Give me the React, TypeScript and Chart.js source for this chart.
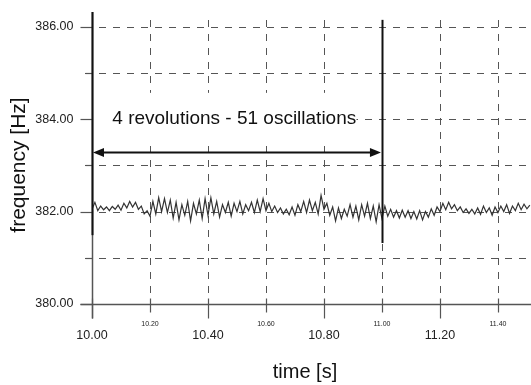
import { useEffect, useRef } from "react";
import { Chart, registerables } from "chart.js";

Chart.register(...registerables);

// ---- data ----
const TIMES = [
  10.00, 10.01, 10.02, 10.03, 10.04, 10.05, 10.06, 10.07, 10.08, 10.09,
  10.10, 10.11, 10.12, 10.13, 10.14, 10.15, 10.16, 10.17, 10.18, 10.19,
  10.20, 10.21, 10.22, 10.23, 10.24, 10.25, 10.26, 10.27, 10.28, 10.29,
  10.30, 10.31, 10.32, 10.33, 10.34, 10.35, 10.36, 10.37, 10.38, 10.39,
  10.40, 10.41, 10.42, 10.43, 10.44, 10.45, 10.46, 10.47, 10.48, 10.49,
  10.50, 10.51, 10.52, 10.53, 10.54, 10.55, 10.56, 10.57, 10.58, 10.59,
  10.60, 10.61, 10.62, 10.63, 10.64, 10.65, 10.66, 10.67, 10.68, 10.69,
  10.70, 10.71, 10.72, 10.73, 10.74, 10.75, 10.76, 10.77, 10.78, 10.79,
  10.80, 10.81, 10.82, 10.83, 10.84, 10.85, 10.86, 10.87, 10.88, 10.89,
  10.90, 10.91, 10.92, 10.93, 10.94, 10.95, 10.96, 10.97, 10.98, 10.99,
  11.00, 11.01, 11.02, 11.03, 11.04, 11.05, 11.06, 11.07, 11.08, 11.09,
  11.10, 11.11, 11.12, 11.13, 11.14, 11.15, 11.16, 11.17, 11.18, 11.19,
  11.20, 11.21, 11.22, 11.23, 11.24, 11.25, 11.26, 11.27, 11.28, 11.29,
  11.30, 11.31, 11.32, 11.33, 11.34, 11.35, 11.36, 11.37, 11.38, 11.39,
  11.40, 11.41, 11.42, 11.43, 11.44, 11.45, 11.46, 11.47, 11.48, 11.49,
  11.50, 11.51,
];

const FREQ = [
  382.05, 382.20, 382.02, 382.12, 382.04, 382.10, 382.02, 382.11, 382.05, 382.14,
  382.03, 382.18, 382.08, 382.22, 382.10, 382.20, 382.05, 382.12, 381.95, 382.02,
  381.90, 382.22, 381.95, 382.30, 382.00, 382.28, 381.98, 382.25, 381.86, 382.20,
  381.82, 382.15, 381.92, 382.22, 381.80, 382.18, 381.95, 382.25, 381.85, 382.28,
  381.92, 382.30, 381.95, 382.22, 381.88, 382.15, 381.98, 382.20, 381.90, 382.18,
  382.00, 382.22, 381.95, 382.15, 382.02, 382.20, 381.98, 382.25, 382.00, 382.28,
  382.02, 382.18, 382.00, 382.12, 381.98, 382.08, 381.95, 382.05, 381.93, 382.10,
  381.92, 382.15, 382.00, 382.22, 381.98, 382.25, 382.02, 382.20, 381.95, 382.35,
  382.05, 382.18, 381.92, 382.10, 381.80, 382.08, 381.85, 382.05, 381.90, 382.15,
  381.88, 382.12, 381.82, 382.15, 381.90, 382.18, 381.85, 382.12, 381.78, 382.15,
  381.85, 382.12, 381.90, 382.05, 381.88, 382.02, 381.86, 382.03, 381.88, 382.02,
  381.85, 382.00, 381.84, 382.02, 381.82, 382.00, 381.88, 382.06, 381.92, 382.10,
  382.00, 382.18, 382.04, 382.20, 382.06, 382.15, 382.02, 382.10, 381.98, 382.06,
  381.96, 382.05, 381.95, 382.08, 381.94, 382.12, 381.98, 382.08, 381.92, 382.10,
  381.98, 382.12, 382.00, 382.15, 381.96, 382.12, 382.02, 382.18, 382.04, 382.16,
  382.06, 382.14,
];

const X_MIN = 10.0;
const X_MAX = 11.514;
const Y_MIN = 380;
const Y_MAX = 386.32;

const X_GRID = [10.2, 10.4, 10.6, 10.8, 11.0, 11.2, 11.4];
const Y_GRID = [381, 382, 383, 384, 385, 386];
const X_MAJOR_LABELS = [10.0, 10.4, 10.8, 11.2];
const X_MINOR_LABELS = [10.2, 10.6, 11.0, 11.4];
const Y_LABELS = [380, 382, 384, 386];
const Y_MINOR_TICKS = [381, 383, 385];

const X_TITLE = "time [s]";
const Y_TITLE = "frequency [Hz]";
const NOTE = "4 revolutions - 51 oscillations";
const NOTE_TIME = 10.07;
const NOTE_FREQ = 384.0;
const ARROW_FROM = 10.0;
const ARROW_TO = 11.0;
const ARROW_FREQ = 383.28;
const MARKERS = [
  { t: 10.0, top: 386.32, bottom: 381.49 },
  { t: 11.0, top: 386.15, bottom: 381.32 },
];

const FONT = '"Liberation Sans", Arial, sans-serif';

const overlay = {
  id: "overlay",
  beforeDatasetsDraw(chart: any) {
    const { ctx, chartArea: a, scales } = chart;
    const x = scales.x;
    const y = scales.y;
    ctx.save();
    ctx.strokeStyle = "#555";
    ctx.lineWidth = 1;
    ctx.setLineDash([7, 7]);
    for (const v of Y_GRID) {
      const py = Math.round(y.getPixelForValue(v)) + 0.5;
      ctx.beginPath();
      ctx.moveTo(a.left - 7, py);
      ctx.lineTo(a.right, py);
      ctx.stroke();
    }
    for (const v of X_GRID) {
      const px = Math.round(x.getPixelForValue(v)) + 0.5;
      ctx.beginPath();
      ctx.moveTo(px, a.top + 8);
      ctx.lineTo(px, a.bottom);
      ctx.stroke();
    }
    ctx.restore();
  },
  afterDraw(chart: any) {
    const { ctx, chartArea: a, scales } = chart;
    const x = scales.x;
    const y = scales.y;
    ctx.save();
    ctx.setLineDash([]);

    // white box behind note
    const bx0 = x.getPixelForValue(10.0) + 1;
    const bx1 = x.getPixelForValue(10.912);
    const by0 = y.getPixelForValue(384.57);
    const by1 = y.getPixelForValue(383.54);
    ctx.fillStyle = "#fff";
    ctx.fillRect(bx0, by0, bx1 - bx0, by1 - by0);

    // note text
    ctx.fillStyle = "#111";
    ctx.font = `19px ${FONT}`;
    ctx.textAlign = "left";
    ctx.textBaseline = "middle";
    ctx.fillText(NOTE, x.getPixelForValue(NOTE_TIME), y.getPixelForValue(NOTE_FREQ));

    // axes (grey)
    const ax = Math.round(x.getPixelForValue(X_MIN)) + 0.5;
    const ay = Math.round(y.getPixelForValue(Y_MIN)) + 0.5;
    ctx.strokeStyle = "#555";
    ctx.lineWidth = 1.5;
    ctx.beginPath();
    ctx.moveTo(ax, a.top);
    ctx.lineTo(ax, ay + 14);
    ctx.stroke();
    ctx.beginPath();
    ctx.moveTo(ax - 12, ay);
    ctx.lineTo(a.right, ay);
    ctx.stroke();

    // x ticks
    ctx.lineWidth = 1.2;
    for (const v of X_MAJOR_LABELS) {
      const px = Math.round(x.getPixelForValue(v)) + 0.5;
      ctx.beginPath();
      ctx.moveTo(px, ay - 6);
      ctx.lineTo(px, ay + 14);
      ctx.stroke();
    }
    for (const v of X_MINOR_LABELS) {
      const px = Math.round(x.getPixelForValue(v)) + 0.5;
      ctx.beginPath();
      ctx.moveTo(px, ay - 6);
      ctx.lineTo(px, ay + 8);
      ctx.stroke();
    }
    // y ticks
    for (const v of Y_LABELS) {
      const py = Math.round(y.getPixelForValue(v)) + 0.5;
      ctx.beginPath();
      ctx.moveTo(ax - 12, py);
      ctx.lineTo(ax, py);
      ctx.stroke();
    }
    for (const v of Y_MINOR_TICKS) {
      const py = Math.round(y.getPixelForValue(v)) + 0.5;
      ctx.beginPath();
      ctx.moveTo(ax - 7, py);
      ctx.lineTo(ax, py);
      ctx.stroke();
    }

    // revolution markers (black)
    ctx.strokeStyle = "#111";
    ctx.lineWidth = 2;
    for (const m of MARKERS) {
      const px = Math.round(x.getPixelForValue(m.t)) + 0.5;
      ctx.beginPath();
      ctx.moveTo(px, y.getPixelForValue(m.top));
      ctx.lineTo(px, y.getPixelForValue(m.bottom));
      ctx.stroke();
    }

    // arrow
    const x0 = x.getPixelForValue(ARROW_FROM) + 1;
    const x1 = x.getPixelForValue(ARROW_TO) - 1;
    const yA = Math.round(y.getPixelForValue(ARROW_FREQ)) + 0.5;
    ctx.lineWidth = 2;
    ctx.beginPath();
    ctx.moveTo(x0 + 6, yA);
    ctx.lineTo(x1 - 6, yA);
    ctx.stroke();
    ctx.fillStyle = "#111";
    ctx.beginPath();
    ctx.moveTo(x0, yA);
    ctx.lineTo(x0 + 11, yA - 4.5);
    ctx.lineTo(x0 + 11, yA + 4.5);
    ctx.closePath();
    ctx.fill();
    ctx.beginPath();
    ctx.moveTo(x1, yA);
    ctx.lineTo(x1 - 11, yA - 4.5);
    ctx.lineTo(x1 - 11, yA + 4.5);
    ctx.closePath();
    ctx.fill();

    // tick labels
    ctx.fillStyle = "#222";
    ctx.font = `12.5px ${FONT}`;
    ctx.textAlign = "right";
    ctx.textBaseline = "middle";
    for (const v of Y_LABELS) {
      ctx.fillText(v.toFixed(2), ax - 19, y.getPixelForValue(v));
    }
    ctx.textAlign = "center";
    for (const v of X_MAJOR_LABELS) {
      ctx.fillText(v.toFixed(2), x.getPixelForValue(v), ay + 31);
    }
    ctx.font = `7px ${FONT}`;
    for (const v of X_MINOR_LABELS) {
      ctx.fillText(v.toFixed(2), x.getPixelForValue(v), ay + 20);
    }

    // axis titles
    ctx.fillStyle = "#111";
    ctx.font = `20px ${FONT}`;
    ctx.textAlign = "center";
    ctx.textBaseline = "middle";
    ctx.fillText(X_TITLE, 305, ay + 68);
    ctx.save();
    ctx.font = `21px ${FONT}`;
    ctx.translate(19, (a.top + a.bottom) / 2 + 7);
    ctx.rotate(-Math.PI / 2);
    ctx.fillText(Y_TITLE, 0, 0);
    ctx.restore();

    ctx.restore();
  },
};

export default function App() {
  const ref = useRef<HTMLCanvasElement | null>(null);
  useEffect(() => {
    if (!ref.current) return;
    const points = TIMES.map((t, i) => ({ x: t, y: FREQ[i] }));
    const chart = new Chart(ref.current, {
      type: "line",
      data: {
        datasets: [
          {
            data: points,
            borderColor: "#333",
            borderWidth: 1.2,
            pointRadius: 0,
            tension: 0,
            fill: false,
          },
        ],
      },
      options: {
        animation: false,
        responsive: false,
        devicePixelRatio: 1,
        layout: { padding: { left: 92, right: 0, top: 12, bottom: 81 } },
        plugins: { legend: { display: false }, tooltip: { enabled: false } },
        scales: {
          x: { type: "linear", min: X_MIN, max: X_MAX, display: false },
          y: { type: "linear", min: Y_MIN, max: Y_MAX, display: false },
        },
      },
      plugins: [overlay],
    });
    return () => chart.destroy();
  }, []);
  return (
    <div style={{ position: "fixed", left: 0, top: 0, width: 531, height: 385, background: "#fff" }}>
      <canvas ref={ref} width={531} height={385} style={{ display: "block" }} />
    </div>
  );
}
